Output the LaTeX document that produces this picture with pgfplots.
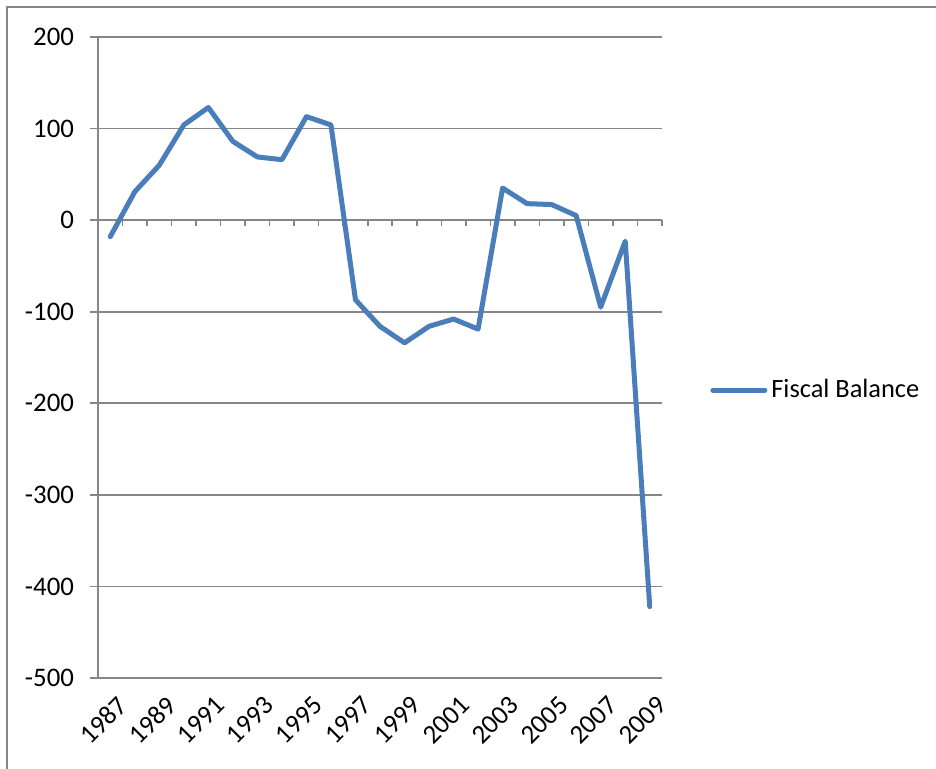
\documentclass[border=0pt]{standalone}
\usepackage{pgfplots}
\pgfplotsset{compat=1.18}
\usepackage{fontspec}
\setmainfont{Carlito}
\definecolor{seriesblue}{HTML}{4A7EBB}
\definecolor{framegray}{HTML}{868686}

\begin{document}
\begin{tikzpicture}[x=1pt,y=1pt]
\useasboundingbox (0,0) rectangle (468,384.5);
% outer chart frame (left and top edges show)
\draw[framegray, line width=0.8pt] (3.5,-5) -- (3.5,381) -- (475,381);
\begin{axis}[
  at={(49pt,45.5pt)}, anchor=south west,
  scale only axis, width=282pt, height=320.5pt,
  xmin=-0.5, xmax=22.5, ymin=-500, ymax=200,
  axis y line*=left, axis x line*=bottom,
  axis line style={framegray, line width=0.8pt, -},
  ytick={-500,-400,...,200},
  ymajorgrids, grid style={framegray, line width=0.8pt},
  xtick={0,2,...,22},
  xticklabels={1987,1989,1991,1993,1995,1997,1999,2001,2003,2005,2007,2009},
  x tick style={draw=none},
  y tick style={framegray, line width=0.8pt},
  tick align=outside, major tick length=4pt,
  yticklabel style={xshift=-4.5pt},
  xticklabel style={rotate=45, anchor=north east, xshift=2.5pt, yshift=-1.5pt},
  tick label style={font=\fontsize{13.4}{15}\selectfont},
  /pgf/number format/assume math mode=true,
  legend style={at={(1.085,0.449)}, anchor=west, draw=none, fill=none,
    font=\fontsize{13.2}{15}\selectfont, inner sep=0pt},
  legend cell align=left,
  legend image code/.code={\draw[#1, line cap=round] (0pt,0pt) -- (26pt,0pt);},
  clip=false,
]
% zero line with category boundary ticks
\draw[framegray, line width=0.8pt] (axis cs:-0.5,0) -- (axis cs:22.5,0);
\pgfplotsinvokeforeach{-0.5,0.5,...,22.5}{
  \draw[framegray, line width=0.8pt] (axis cs:#1,0) -- ++(0pt,-3pt);
}
\addplot[seriesblue, line width=2.5pt, line join=round, line cap=round] coordinates {
  (0,-18) (1,31) (2,60) (3,104) (4,123) (5,86) (6,69) (7,66) (8,113) (9,104)
  (10,-87) (11,-116) (12,-134) (13,-116) (14,-108) (15,-119)
  (16,35) (17,18) (18,17) (19,5) (20,-95) (21,-23) (22,-422)
};
\addlegendentry{Fiscal Balance}
\end{axis}
\end{tikzpicture}
\end{document}
